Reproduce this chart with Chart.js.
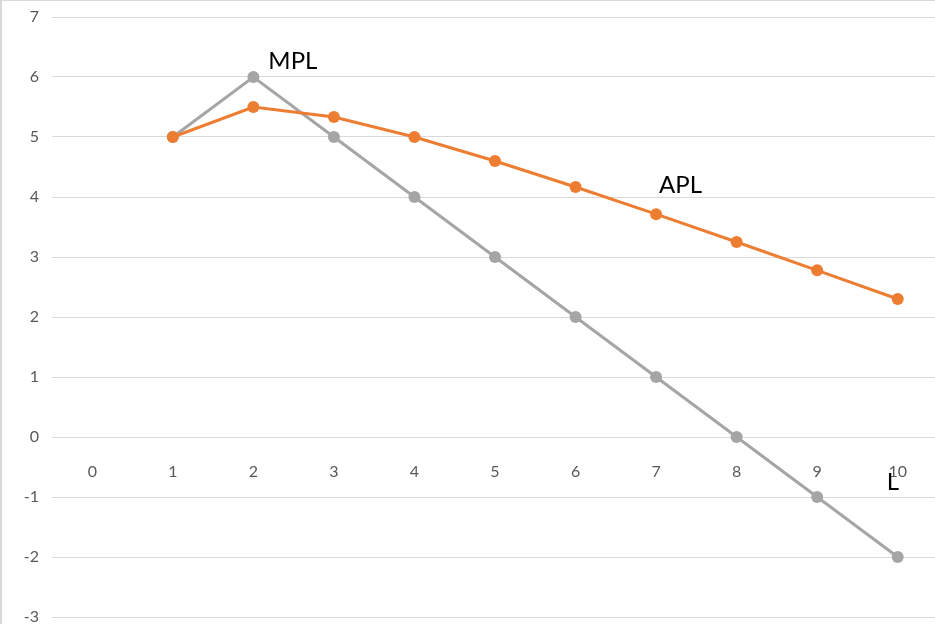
<!DOCTYPE html>
<html>
<head>
<meta charset="utf-8">
<script src="https://cdn.jsdelivr.net/npm/chart.js@4.4.1/dist/chart.umd.min.js"></script>
<style>
  html, body { margin: 0; padding: 0; background: #fff; overflow: hidden; }
  #frame {
    position: relative; width: 935px; height: 624px; box-sizing: border-box; overflow: hidden;
    border-left: 2px solid #d9d9d9; border-top: 1px solid #d9d9d9; background: #fff;
  }
  #frame canvas { display: block; }
</style>
</head>
<body>
<div id="frame"><canvas id="c" width="942" height="623"></canvas></div>
<script>
// Labour units on the horizontal axis
const labour = ['0', '1', '2', '3', '4', '5', '6', '7', '8', '9', '10'];
// Marginal product of labour
const mpl = [null, 5, 6, 5, 4, 3, 2, 1, 0, -1, -2];
// Average product of labour
const apl = [null, 5, 5.5, 5.333, 5, 4.6, 4.167, 3.714, 3.25, 2.778, 2.3];
// Vertical axis range and step
const yMin = -3, yMax = 7, yStep = 1;

const tickFont = { family: 'Lato, "Open Sans", sans-serif', size: 16 };
const noteFont = '24px Lato, "Open Sans", sans-serif';

// Curve names written beside the lines, anchored to data positions
const curveNotes = [
  { text: 'MPL', cat: 2, value: 6.27, dx: 15 },
  { text: 'APL', cat: 7, value: 4.2, dx: 3 },
  { text: 'L', cat: 10, value: -0.75, dx: -11 }
];

const notesPlugin = {
  id: 'curveNotes',
  afterDatasetsDraw(chart) {
    const { ctx, scales: { x, y } } = chart;
    ctx.save();
    ctx.font = noteFont;
    ctx.fillStyle = '#000';
    ctx.textBaseline = 'middle';
    ctx.textAlign = 'left';
    curveNotes.forEach(n => {
      ctx.fillText(n.text, x.getPixelForValue(n.cat) + n.dx, y.getPixelForValue(n.value));
    });
    ctx.restore();
  }
};

new Chart(document.getElementById('c'), {
  type: 'line',
  data: {
    labels: labour,
    datasets: [
      {
        label: 'APL', data: apl,
        borderColor: '#ED7D31', backgroundColor: '#ED7D31',
        borderWidth: 3, pointRadius: 6, pointBorderWidth: 0, tension: 0
      },
      {
        label: 'MPL', data: mpl,
        borderColor: '#A5A5A5', backgroundColor: '#A5A5A5',
        borderWidth: 3, pointRadius: 6, pointBorderWidth: 0, tension: 0
      }
    ]
  },
  options: {
    responsive: false,
    animation: false,
    layout: { padding: { top: 16, bottom: 7, left: 0, right: 0 } },
    plugins: { legend: { display: false }, tooltip: { enabled: false } },
    scales: {
      x: {
        type: 'category',
        offset: true,
        position: { y: 0 },
        grid: { display: false },
        border: { display: false },
        ticks: { color: '#595959', font: tickFont, padding: 17, maxRotation: 0, autoSkip: false },
        afterFit(scale) { scale.height = 0; scale.paddingLeft = 0; scale.paddingRight = 0; }
      },
      y: {
        min: yMin, max: yMax,
        grid: { color: '#d9d9d9', lineWidth: 1, drawTicks: false },
        border: { display: false },
        ticks: { stepSize: yStep, color: '#595959', font: tickFont, padding: 13 },
        afterFit(scale) { scale.width = 50; scale.paddingTop = 0; scale.paddingBottom = 0; }
      }
    }
  },
  plugins: [notesPlugin]
});
</script>
</body>
</html>
